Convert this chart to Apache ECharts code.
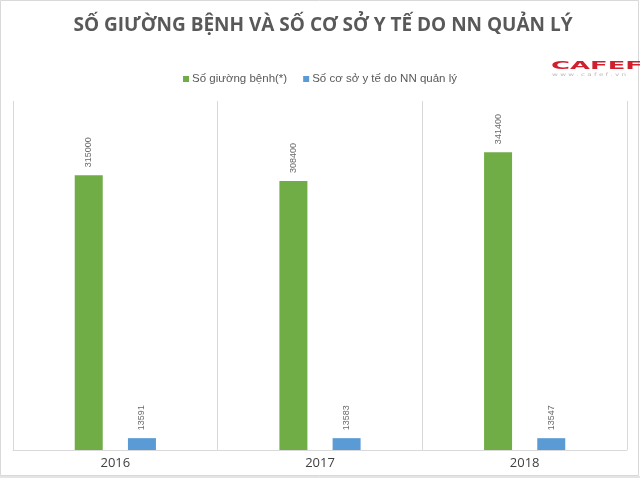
<!DOCTYPE html>
<html>
<head>
<meta charset="utf-8">
<script src="https://cdn.jsdelivr.net/npm/echarts@6/dist/echarts.min.js"></script>
<style>html,body{margin:0;padding:0;background:#fff}#c{width:640px;height:478px}</style>
</head>
<body>
<div id="c"></div>
<script>
const titleText = 'SỐ GIƯỜNG BỆNH VÀ SỐ CƠ SỞ Y TẾ DO NN QUẢN LÝ';
const categories = ['2016', '2017', '2018'];
const seriesNames = ['Số giường bệnh(*)', 'Số cơ sở y tế do NN quản lý'];
const bedValues = [315000, 308400, 341400];
const facilityValues = [13591, 13583, 13547];

const chart = echarts.init(document.getElementById('c'), null, {renderer: 'canvas'});
const labelCfg = {
  show: true, position: 'top', rotate: 90, distance: 8,
  align: 'left', verticalAlign: 'middle',
  fontSize: 9, color: '#6a6a6a', fontFamily: 'Liberation Sans'
};
chart.setOption({
  backgroundColor: '#ffffff',
  animation: false,
  title: {
    text: titleText, left: 318, top: 11, textAlign: 'center',
    textStyle: {fontFamily: 'Open Sans', fontWeight: 'bold', fontSize: 19, color: '#595959'}
  },
  legend: {
    top: 68, left: 'center', itemWidth: 6, itemHeight: 6, itemGap: 16,
    icon: 'rect',
    textStyle: {fontFamily: 'Liberation Sans', fontSize: 11.5, color: '#595959', padding: [0,0,0,-2]},
    data: seriesNames
  },
  grid: {left: 13, right: 13, top: 101, bottom: 28, containLabel: false},
  xAxis: {
    type: 'category', data: categories, boundaryGap: true,
    axisLine: {lineStyle: {color: '#d9d9d9'}},
    axisTick: {show: false},
    splitLine: {show: true, lineStyle: {color: '#d9d9d9'}},
    axisLabel: {fontFamily: 'Open Sans', fontSize: 13, color: '#404040', margin: 7}
  },
  yAxis: {
    type: 'value', min: 0, max: 400000, show: false,
    splitLine: {show: false}
  },
  series: [
    {name: seriesNames[0], type: 'bar', data: bedValues, barWidth: 28, barGap: '90%',
     itemStyle: {color: '#70ad47'}, label: labelCfg},
    {name: seriesNames[1], type: 'bar', data: facilityValues, barWidth: 28,
     itemStyle: {color: '#5b9bd5'}, label: labelCfg}
  ],
  graphic: [
    {type: 'rect', shape: {x: 0.5, y: 0.5, width: 638, height: 475}, silent: true,
     style: {fill: 'none', stroke: '#d9d9d9', lineWidth: 1}},
    {type: 'rect', shape: {x: 0, y: 476, width: 640, height: 2}, silent: true,
     style: {fill: '#e4e4e4'}},
    {type: 'text', x: 551, y: 60.5, scaleX: 2.35, silent: true,
     style: {text: 'CAFEF', fontFamily: 'DejaVu Sans', fontWeight: 'bold', fontSize: 11, fill: '#d0202e'}},
    {type: 'text', x: 552, y: 72, scaleX: 1.6, silent: true,
     style: {text: 'w w w . c a f e f . v n', fontFamily: 'DejaVu Sans', fontSize: 4.5, fill: '#b8b8b8'}}
  ]
});
</script>
</body>
</html>
